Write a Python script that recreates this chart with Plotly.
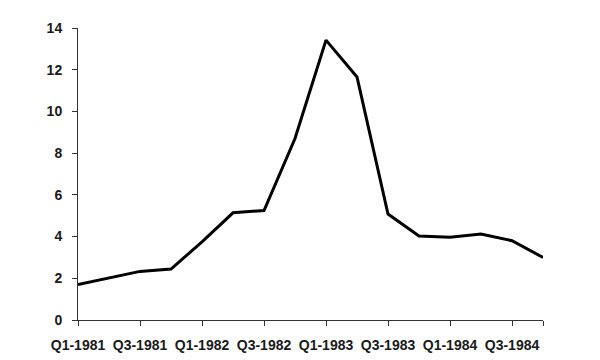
import plotly.graph_objects as go

quarters = ["Q1-1981", "Q2-1981", "Q3-1981", "Q4-1981",
            "Q1-1982", "Q2-1982", "Q3-1982", "Q4-1982",
            "Q1-1983", "Q2-1983", "Q3-1983", "Q4-1983",
            "Q1-1984", "Q2-1984", "Q3-1984", "Q4-1984"]
values = [1.7, 2.0, 2.33, 2.44, 3.75, 5.14, 5.25, 8.7,
          13.42, 11.65, 5.08, 4.03, 3.97, 4.12, 3.8, 3.0]

x_idx = list(range(len(quarters)))
tick_idx = x_idx[::2] + [len(quarters) - 1]
tick_txt = quarters[::2] + [""]

fig = go.Figure()
fig.add_trace(go.Scatter(x=x_idx, y=values, mode="lines",
                         line=dict(color="black", width=3),
                         hoverinfo="skip", showlegend=False))

font = dict(family="Liberation Sans, Arial, sans-serif", size=14, color="#1a1a1a")
fig.update_layout(
    width=600, height=360,
    margin=dict(l=78, r=57, t=28, b=40),
    paper_bgcolor="white", plot_bgcolor="white",
    font=font,
    showlegend=False,
)
fig.update_xaxes(range=[0, len(quarters) - 1], tickmode="array",
                 tickvals=tick_idx, ticktext=[f"<b>{t}</b>" if t else "" for t in tick_txt],
                 showgrid=False, zeroline=False, showline=True,
                 linecolor="#333333", linewidth=1, ticks="outside",
                 ticklen=5, tickcolor="#333333", tickfont=font,
                 ticklabelstandoff=7, automargin=False)
fig.update_yaxes(range=[0, 14], tickmode="array", tickvals=list(range(0, 15, 2)),
                 ticktext=[f"<b>{v}</b>" for v in range(0, 15, 2)],
                 showgrid=False, zeroline=False, showline=True,
                 linecolor="#333333", linewidth=1, ticks="outside",
                 ticklen=5, tickcolor="#333333", tickfont=font,
                 ticklabelstandoff=7, automargin=False)

fig.write_html("out.html")
